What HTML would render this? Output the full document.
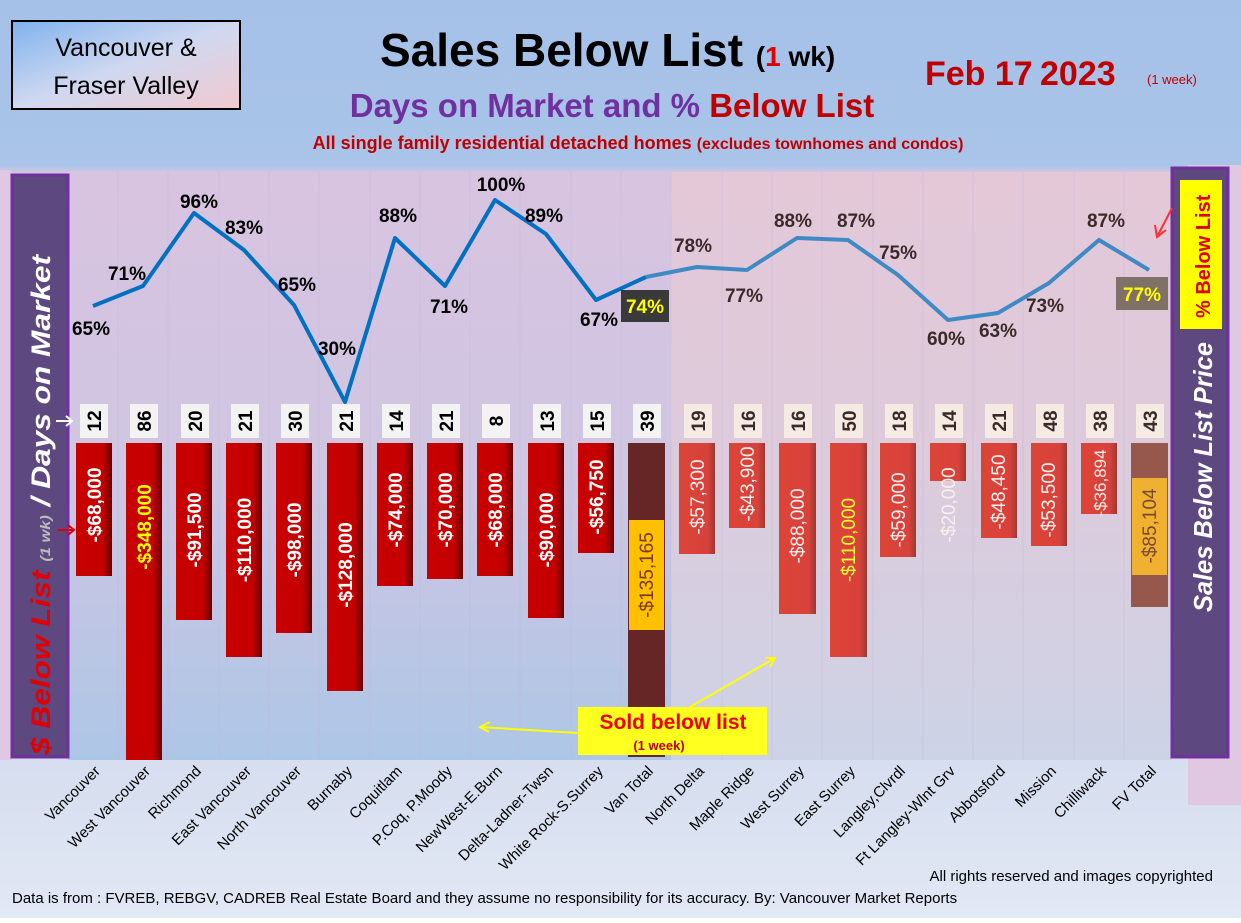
<!DOCTYPE html>
<html><head><meta charset="utf-8"><style>
html,body{margin:0;padding:0;}
body{width:1241px;height:918px;overflow:hidden;font-family:"Liberation Sans",sans-serif;}
</style></head><body>
<svg width="1241" height="918" viewBox="0 0 1241 918" xmlns="http://www.w3.org/2000/svg" font-family="Liberation Sans, sans-serif">
<defs>
<linearGradient id="bg" x1="0" y1="0" x2="0" y2="1">
<stop offset="0" stop-color="#a6c1e8"/><stop offset="0.18" stop-color="#a9c4e8"/><stop offset="0.19" stop-color="#dcc8e0"/><stop offset="0.85" stop-color="#d7dff0"/><stop offset="1" stop-color="#e2e8f4"/>
</linearGradient>
<linearGradient id="plotL" x1="0" y1="0" x2="0" y2="1">
<stop offset="0" stop-color="#d8c3e0"/><stop offset="0.5" stop-color="#cfc6e2"/><stop offset="1" stop-color="#aec6e6"/>
</linearGradient>
<linearGradient id="plotR" x1="0" y1="0" x2="0" y2="1">
<stop offset="0" stop-color="#e4c8d8"/><stop offset="0.5" stop-color="#dccbdb"/><stop offset="1" stop-color="#cdd3e6"/>
</linearGradient>
<linearGradient id="barA" x1="0" y1="0" x2="1" y2="0">
<stop offset="0" stop-color="#c80000"/><stop offset="0.75" stop-color="#c40000"/><stop offset="1" stop-color="#6a0000"/>
</linearGradient>
<linearGradient id="barB" x1="0" y1="0" x2="1" y2="0">
<stop offset="0" stop-color="#dc4438"/><stop offset="0.8" stop-color="#d8423a"/><stop offset="1" stop-color="#9a3a34"/>
</linearGradient>
<linearGradient id="box" x1="0" y1="0" x2="1" y2="1">
<stop offset="0" stop-color="#7fb2ee"/><stop offset="0.5" stop-color="#cfd8f0"/><stop offset="1" stop-color="#f2c9cf"/>
</linearGradient>
</defs>
<rect width="1241" height="918" fill="url(#bg)"/>
<rect x="1188" y="165" width="53" height="640" fill="#e0c8e2"/>
<rect x="0" y="170" width="12" height="590" fill="#e0c8e2"/>
<rect x="68" y="172" width="603" height="588" fill="url(#plotL)"/>
<rect x="671" y="172" width="501" height="588" fill="url(#plotR)"/>
<g stroke="#c4b8da" stroke-width="0.6" opacity="0.7">
<line x1="118" y1="172" x2="118" y2="760"/><line x1="168" y1="172" x2="168" y2="760"/><line x1="219" y1="172" x2="219" y2="760"/><line x1="269" y1="172" x2="269" y2="760"/><line x1="319" y1="172" x2="319" y2="760"/><line x1="370" y1="172" x2="370" y2="760"/><line x1="420" y1="172" x2="420" y2="760"/><line x1="470" y1="172" x2="470" y2="760"/><line x1="520" y1="172" x2="520" y2="760"/><line x1="571" y1="172" x2="571" y2="760"/><line x1="621" y1="172" x2="621" y2="760"/><line x1="671" y1="172" x2="671" y2="760"/><line x1="722" y1="172" x2="722" y2="760"/><line x1="772" y1="172" x2="772" y2="760"/><line x1="822" y1="172" x2="822" y2="760"/><line x1="873" y1="172" x2="873" y2="760"/><line x1="923" y1="172" x2="923" y2="760"/><line x1="973" y1="172" x2="973" y2="760"/><line x1="1023" y1="172" x2="1023" y2="760"/><line x1="1074" y1="172" x2="1074" y2="760"/><line x1="1124" y1="172" x2="1124" y2="760"/>
</g>
<rect x="12" y="21" width="228" height="88" fill="url(#box)" stroke="#000" stroke-width="2"/>
<text x="126" y="56" font-size="25" text-anchor="middle" fill="#000">Vancouver &amp;</text>
<text x="126" y="94" font-size="25" text-anchor="middle" fill="#000">Fraser Valley</text>
<text x="380" y="66" font-size="46" font-weight="bold" fill="#000">Sales Below List <tspan font-size="28">(<tspan fill="#e00000">1</tspan> wk)</tspan></text>
<text x="612" y="117" font-size="33" font-weight="bold" text-anchor="middle" fill="#7030a0">Days on Market and % <tspan fill="#c00000">Below List</tspan></text>
<text x="638" y="149" font-size="18" font-weight="bold" text-anchor="middle" fill="#c00000">All single family residential detached homes <tspan font-size="16">(excludes townhomes and condos)</tspan></text>
<text x="925" y="85" font-size="34" font-weight="bold" fill="#c00000">Feb 17</text>
<text x="1040" y="85" font-size="34" font-weight="bold" fill="#c00000">2023</text>
<text x="1147" y="84" font-size="13" fill="#c00000">(1 week)</text>
<rect x="12" y="175" width="56" height="582" fill="#5e4880" stroke="#7030a0" stroke-width="3"/>
<text transform="translate(50,755) rotate(-90)" font-size="27" font-weight="bold" font-style="italic" fill="#fff" textLength="500" lengthAdjust="spacingAndGlyphs"><tspan fill="#e00000">$ Below List</tspan> <tspan font-size="14" fill="#bbb">(1 wk)</tspan> / Days on Market</text>
<rect x="1172" y="168" width="56" height="589" fill="#5e4880" stroke="#7030a0" stroke-width="3"/>
<rect x="1180" y="180" width="42" height="149" fill="#ffff00"/>
<text transform="translate(1210,318) rotate(-90)" font-size="20" font-weight="bold" fill="#e00000">% Below List</text>
<text transform="translate(1212,612) rotate(-90)" font-size="26" font-weight="bold" font-style="italic" fill="#fff" textLength="270" lengthAdjust="spacingAndGlyphs">Sales Below List Price</text>
<path d="M1172 208 L1158 235" stroke="#ff3030" stroke-width="2"/><path d="M1155 225 L1157 237 L1166 230" stroke="#ff3030" stroke-width="2" fill="none"/>
<path d="M56 421 L72 421 M66 416 L72 421 L66 426" stroke="#fff" stroke-width="2" fill="none"/>
<path d="M58 530 L74 530 M68 525 L74 530 L68 535" stroke="#e00000" stroke-width="2" fill="none"/>
<polyline points="93,306 143,286 194,213 244,250 294,305 345,402 395,238 445,286 495,200 546,234 596,300 646,277" fill="none" stroke="#0070c0" stroke-width="4" stroke-linejoin="round"/>
<polyline points="646,277 697,267 747,270 797,238 848,240 898,275 948,320 998,313 1049,283 1099,240 1149,270" fill="none" stroke="#3f8ac4" stroke-width="4" stroke-linejoin="round"/>
<g font-size="19" font-weight="bold" fill="#000" text-anchor="middle">
<text x="91" y="335">65%</text><text x="127" y="280">71%</text><text x="199" y="208">96%</text><text x="244" y="234">83%</text><text x="297" y="291">65%</text><text x="337" y="355">30%</text><text x="398" y="222">88%</text><text x="449" y="313">71%</text><text x="501" y="191">100%</text><text x="544" y="222">89%</text><text x="599" y="326">67%</text>
</g>
<g font-size="19" font-weight="bold" fill="#3a2a2a" text-anchor="middle">
<text x="693" y="252">78%</text><text x="744" y="302">77%</text><text x="793" y="227">88%</text><text x="856" y="227">87%</text><text x="898" y="259">75%</text><text x="946" y="345">60%</text><text x="998" y="337">63%</text><text x="1045" y="312">73%</text><text x="1106" y="227">87%</text>
</g>
<rect x="621" y="290" width="48" height="32" fill="#3a3a3a"/><text x="645" y="313" font-size="19" font-weight="bold" fill="#ffff00" text-anchor="middle">74%</text>
<rect x="1116" y="277" width="52" height="33" fill="#7f7068"/><text x="1142" y="301" font-size="19" font-weight="bold" fill="#ffff00" text-anchor="middle">77%</text>
<g>
<rect x="80" y="404" width="28" height="34" fill="#f3f3f3"/><rect x="130" y="404" width="28" height="34" fill="#f3f3f3"/><rect x="181" y="404" width="28" height="34" fill="#f3f3f3"/><rect x="231" y="404" width="28" height="34" fill="#f3f3f3"/><rect x="281" y="404" width="28" height="34" fill="#f3f3f3"/><rect x="332" y="404" width="28" height="34" fill="#f3f3f3"/><rect x="382" y="404" width="28" height="34" fill="#f3f3f3"/><rect x="432" y="404" width="28" height="34" fill="#f3f3f3"/><rect x="482" y="404" width="28" height="34" fill="#f3f3f3"/><rect x="533" y="404" width="28" height="34" fill="#f3f3f3"/><rect x="583" y="404" width="28" height="34" fill="#f3f3f3"/><rect x="633" y="404" width="28" height="34" fill="#f3f3f3"/>
<rect x="684" y="404" width="28" height="34" fill="#f5ebe3"/><rect x="734" y="404" width="28" height="34" fill="#f5ebe3"/><rect x="784" y="404" width="28" height="34" fill="#f5ebe3"/><rect x="835" y="404" width="28" height="34" fill="#f5ebe3"/><rect x="885" y="404" width="28" height="34" fill="#f5ebe3"/><rect x="935" y="404" width="28" height="34" fill="#f5ebe3"/><rect x="985" y="404" width="28" height="34" fill="#f5ebe3"/><rect x="1036" y="404" width="28" height="34" fill="#f5ebe3"/><rect x="1086" y="404" width="28" height="34" fill="#f5ebe3"/><rect x="1136" y="404" width="28" height="34" fill="#f5ebe3"/>
</g>
<g font-size="19" font-weight="bold" fill="#000">
<text transform="translate(101,421) rotate(-90)" text-anchor="middle">12</text><text transform="translate(151,421) rotate(-90)" text-anchor="middle">86</text><text transform="translate(202,421) rotate(-90)" text-anchor="middle">20</text><text transform="translate(252,421) rotate(-90)" text-anchor="middle">21</text><text transform="translate(302,421) rotate(-90)" text-anchor="middle">30</text><text transform="translate(353,421) rotate(-90)" text-anchor="middle">21</text><text transform="translate(403,421) rotate(-90)" text-anchor="middle">14</text><text transform="translate(453,421) rotate(-90)" text-anchor="middle">21</text><text transform="translate(503,421) rotate(-90)" text-anchor="middle">8</text><text transform="translate(554,421) rotate(-90)" text-anchor="middle">13</text><text transform="translate(604,421) rotate(-90)" text-anchor="middle">15</text><text transform="translate(654,421) rotate(-90)" text-anchor="middle">39</text>
</g>
<g font-size="19" font-weight="bold" fill="#3a2a2a">
<text transform="translate(705,421) rotate(-90)" text-anchor="middle">19</text><text transform="translate(755,421) rotate(-90)" text-anchor="middle">16</text><text transform="translate(805,421) rotate(-90)" text-anchor="middle">16</text><text transform="translate(856,421) rotate(-90)" text-anchor="middle">50</text><text transform="translate(906,421) rotate(-90)" text-anchor="middle">18</text><text transform="translate(956,421) rotate(-90)" text-anchor="middle">14</text><text transform="translate(1006,421) rotate(-90)" text-anchor="middle">21</text><text transform="translate(1057,421) rotate(-90)" text-anchor="middle">48</text><text transform="translate(1107,421) rotate(-90)" text-anchor="middle">38</text><text transform="translate(1157,421) rotate(-90)" text-anchor="middle">43</text>
</g>
<g fill="url(#barA)">
<rect x="76" y="443" width="36" height="133"/><rect x="126" y="443" width="36" height="317"/><rect x="176" y="443" width="36" height="177"/><rect x="226" y="443" width="36" height="214"/><rect x="276" y="443" width="36" height="190"/><rect x="327" y="443" width="36" height="248"/><rect x="377" y="443" width="36" height="143"/><rect x="427" y="443" width="36" height="136"/><rect x="477" y="443" width="36" height="133"/><rect x="528" y="443" width="36" height="175"/><rect x="578" y="443" width="36" height="110"/>
</g>
<rect x="628" y="443" width="37" height="314" fill="#662626"/>
<rect x="629" y="520" width="35" height="110" fill="#ffc000"/>
<g fill="url(#barB)">
<rect x="679" y="443" width="36" height="111"/><rect x="729" y="443" width="36" height="85"/><rect x="779" y="443" width="37" height="171"/><rect x="830" y="443" width="37" height="214"/><rect x="880" y="443" width="36" height="114"/><rect x="930" y="443" width="36" height="38"/><rect x="981" y="443" width="36" height="95"/><rect x="1031" y="443" width="36" height="103"/><rect x="1081" y="443" width="36" height="71"/>
</g>
<rect x="1131" y="443" width="37" height="164" fill="#96574c"/>
<rect x="1132" y="478" width="35" height="97" fill="#f0b030"/>
<g font-size="19" font-weight="bold" fill="#fff" text-anchor="middle">
<text transform="translate(101,505) rotate(-90)">-$68,000</text>
<text transform="translate(151,527) rotate(-90)" fill="#ffff00">-$348,000</text>
<text transform="translate(201,530) rotate(-90)">-$91,500</text>
<text transform="translate(251,540) rotate(-90)">-$110,000</text>
<text transform="translate(301,540) rotate(-90)">-$98,000</text>
<text transform="translate(352,565) rotate(-90)">-$128,000</text>
<text transform="translate(402,510) rotate(-90)">-$74,000</text>
<text transform="translate(452,510) rotate(-90)">-$70,000</text>
<text transform="translate(502,510) rotate(-90)">-$68,000</text>
<text transform="translate(553,530) rotate(-90)">-$90,000</text>
<text transform="translate(603,497) rotate(-90)">-$56,750</text>
<text transform="translate(653,575) rotate(-90)" fill="#7a3a20" font-weight="normal">-$135,165</text>
<text transform="translate(704,497) rotate(-90)" font-weight="normal" fill="#fbeeee">-$57,300</text>
<text transform="translate(754,484) rotate(-90)" font-weight="normal" fill="#fbeeee">-$43,900</text>
<text transform="translate(804,526) rotate(-90)" font-weight="normal" fill="#fbeeee">-$88,000</text>
<text transform="translate(855,540) rotate(-90)" font-weight="normal" fill="#ffff30">-$110,000</text>
<text transform="translate(905,510) rotate(-90)" font-weight="normal" fill="#fbeeee">-$59,000</text>
<text transform="translate(955,505) rotate(-90)" font-weight="normal" fill="#fbeeee">-$20,000</text>
<text transform="translate(1005,492) rotate(-90)" font-weight="normal" fill="#fbeeee">-$48,450</text>
<text transform="translate(1055,500) rotate(-90)" font-weight="normal" fill="#fbeeee">-$53,500</text>
<text transform="translate(1106,483) rotate(-90)" font-weight="normal" fill="#fbeeee" font-size="17">-$36,894</text>
<text transform="translate(1156,526) rotate(-90)" font-weight="normal" fill="#7a4a30">-$85,104</text>
</g>
<path d="M578 733 L480 727 M490 722 L480 727 L489 732" stroke="#ffff00" stroke-width="2" fill="none"/>
<path d="M690 707 L775 658 M765 658 L775 658 L770 667" stroke="#ffff00" stroke-width="2" fill="none"/>
<rect x="578" y="707" width="189" height="48" fill="#ffff20"/>
<text x="673" y="729" font-size="21" font-weight="bold" fill="#f00000" text-anchor="middle">Sold below list</text>
<text x="659" y="750" font-size="13" font-weight="bold" fill="#c00000" text-anchor="middle">(1 week)</text>
<g font-size="15" fill="#000" text-anchor="end">
<text transform="translate(101,772) rotate(-45)">Vancouver</text>
<text transform="translate(151,772) rotate(-45)">West Vancouver</text>
<text transform="translate(202,772) rotate(-45)">Richmond</text>
<text transform="translate(252,772) rotate(-45)">East Vancouver</text>
<text transform="translate(302,772) rotate(-45)">North Vancouver</text>
<text transform="translate(353,772) rotate(-45)">Burnaby</text>
<text transform="translate(403,772) rotate(-45)">Coquitlam</text>
<text transform="translate(453,772) rotate(-45)">P.Coq, P.Moody</text>
<text transform="translate(503,772) rotate(-45)">NewWest-E.Burn</text>
<text transform="translate(554,772) rotate(-45)">Delta-Ladner-Twsn</text>
<text transform="translate(604,772) rotate(-45)">White Rock-S.Surrey</text>
<text transform="translate(654,772) rotate(-45)">Van Total</text>
<text transform="translate(705,772) rotate(-45)">North Delta</text>
<text transform="translate(755,772) rotate(-45)">Maple Ridge</text>
<text transform="translate(805,772) rotate(-45)">West Surrey</text>
<text transform="translate(856,772) rotate(-45)">East Surrey</text>
<text transform="translate(906,772) rotate(-45)">Langley,Clvrdl</text>
<text transform="translate(956,772) rotate(-45)">Ft Langley-Wlnt Grv</text>
<text transform="translate(1006,772) rotate(-45)">Abbotsford</text>
<text transform="translate(1057,772) rotate(-45)">Mission</text>
<text transform="translate(1107,772) rotate(-45)">Chilliwack</text>
<text transform="translate(1157,772) rotate(-45)">FV Total</text>
</g>
<text x="1213" y="881" font-size="15" fill="#000" text-anchor="end">All rights reserved and  images copyrighted</text>
<text x="12" y="903" font-size="15" fill="#000">Data is from : FVREB, REBGV, CADREB Real Estate Board and they assume no responsibility for its accuracy. By: Vancouver Market Reports</text>
</svg>
</body></html>
